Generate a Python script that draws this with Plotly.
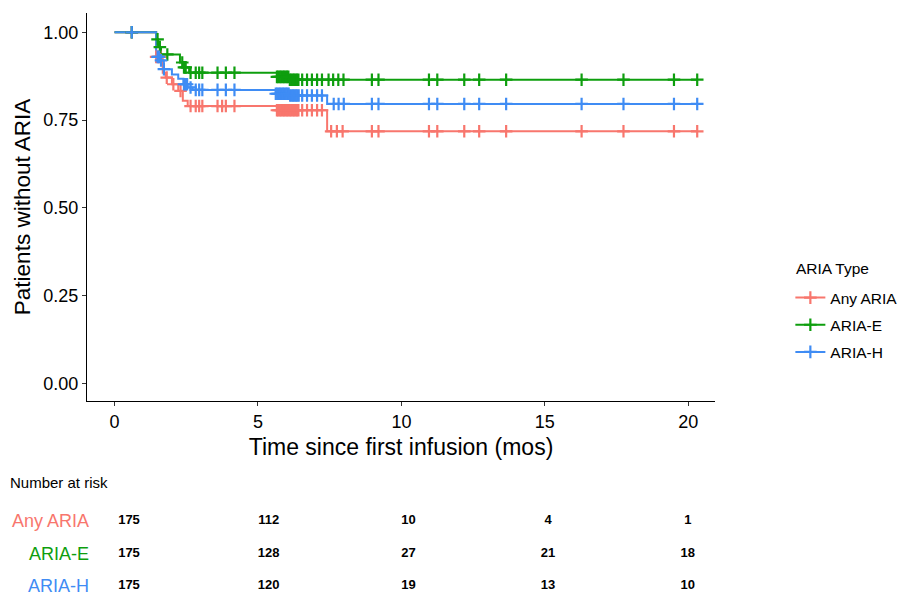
import numpy as np
import plotly.graph_objects as go

# ---------------- data ----------------
groups = ["Any ARIA", "ARIA-E", "ARIA-H"]
colors = ["#F8766D", "#0E9E0E", "#3F8CF4"]

any_time = [0, 1.45, 1.68, 1.78, 2.0, 2.22, 2.38, 2.55, 5.66, 7.41]
any_surv = [1.0, 0.93, 0.885, 0.871, 0.852, 0.833, 0.805, 0.79, 0.778, 0.718]

e_time = [0, 1.45, 1.52, 1.62, 2.28, 2.42, 2.6, 5.66, 6.1]
e_surv = [1.0, 0.98, 0.958, 0.937, 0.914, 0.9, 0.885, 0.873, 0.865]

h_time = [0, 1.45, 1.6, 1.72, 2.0, 2.22, 2.4, 2.55, 2.72, 5.62, 6.1, 7.41]
h_surv = [1.0, 0.93, 0.92, 0.895, 0.88, 0.868, 0.852, 0.843, 0.836, 0.825, 0.82, 0.796]

any_cens = [0.6, 1.45, 1.52, 1.6, 1.82, 2.05, 2.3, 2.65, 2.83, 2.95, 3.06, 3.59, 3.75,
            3.88, 4.18, 5.66, 5.71, 5.76, 5.81, 5.86, 5.91, 5.96, 6.01, 6.06, 6.11,
            6.16, 6.21, 6.26, 6.31, 6.36, 6.41, 6.54, 6.71, 6.88, 7.06, 7.23, 7.55,
            7.75, 7.95, 8.97, 9.2, 10.96, 11.25, 12.19, 12.71, 13.65, 16.28, 17.74,
            19.5, 20.31]
e_cens = [0.6, 1.5, 1.58, 1.84, 2.36, 2.42, 2.48, 2.65, 2.83, 2.95, 3.06, 3.59, 3.88,
          4.18, 5.66, 5.71, 5.76, 5.81, 5.86, 5.91, 5.96, 6.01, 6.06, 6.11, 6.16,
          6.21, 6.26, 6.31, 6.36, 6.41, 6.54, 6.71, 6.88, 7.06, 7.23, 7.46, 7.62,
          7.8, 7.98, 8.97, 9.2, 10.96, 11.25, 12.19, 12.71, 13.65, 16.28, 17.74,
          19.5, 20.31]
h_cens = [0.6, 1.5, 1.55, 1.62, 1.72, 2.42, 2.48, 2.53, 2.65, 2.83, 2.95, 3.06, 3.59,
          3.88, 4.18, 5.62, 5.67, 5.72, 5.77, 5.82, 5.87, 5.92, 5.97, 6.02, 6.07,
          6.12, 6.17, 6.22, 6.27, 6.32, 6.37, 6.42, 6.54, 6.71, 6.88, 7.06, 7.23,
          7.64, 7.81, 7.99, 8.97, 9.2, 10.96, 11.25, 12.19, 12.71, 13.65, 16.28,
          17.74, 19.5, 20.31]

risk_times = [0, 5, 10, 15, 20]
risk_any = [175, 112, 10, 4, 1]
risk_e = [175, 128, 27, 21, 18]
risk_h = [175, 120, 19, 13, 10]

y_ticks = [0, 0.25, 0.5, 0.75, 1.0]
x_ticks = [0, 5, 10, 15, 20]

FONT = "Liberation Sans, Arial, sans-serif"

curves = [(any_time, any_surv, any_cens), (e_time, e_surv, e_cens), (h_time, h_surv, h_cens)]
risks = [risk_any, risk_e, risk_h]

fig = go.Figure()

# step lines
for g, col, (t, s, c) in zip(groups, colors, curves):
    xs = list(t) + [max(c)]
    ys = list(s) + [s[-1]]
    fig.add_trace(go.Scatter(x=xs, y=ys, mode="lines", line=dict(color=col, width=2, shape="hv"),
                             legendgroup=g, showlegend=False, hoverinfo="skip"))

# censor marks
for g, col, (t, s, c) in zip(groups, colors, curves):
    idx = np.searchsorted(np.array(t), np.array(c), side="right") - 1
    cy = np.array(s)[idx]
    fig.add_trace(go.Scatter(x=c, y=cy, mode="markers",
                             marker=dict(symbol="cross-thin", size=9, color=col,
                                         line=dict(color=col, width=2.2)),
                             legendgroup=g, showlegend=False))

# legend entries
for g, col in zip(groups, colors):
    fig.add_trace(go.Scatter(x=[None], y=[None], mode="lines+markers", name=g,
                             line=dict(color=col, width=2),
                             marker=dict(symbol="cross-thin", size=9, color=col,
                                         line=dict(color=col, width=2.2)),
                             legendgroup=g, showlegend=True))

# risk table numbers
for i, r in enumerate(risks):
    fig.add_trace(go.Scatter(x=risk_times, y=[i] * len(risk_times), mode="text",
                             text=[str(v) for v in r], textposition="middle center",
                             textfont=dict(family=FONT, size=13, color="black", weight="bold"),
                             xaxis="x2", yaxis="y2", showlegend=False, hoverinfo="skip"))

annotations = [dict(text="Number at risk", xref="paper", yref="paper", x=-0.1258, y=0.1966,
                    xanchor="left", yanchor="middle", showarrow=False,
                    font=dict(family=FONT, size=15, color="black")),
               dict(text="ARIA Type", xref="paper", yref="paper", x=1.1258,
                    y=(598 - 268) / 585, xanchor="left", yanchor="middle", showarrow=False,
                    font=dict(family=FONT, size=15.5, color="black"))]
for i, (g, col) in enumerate(zip(groups, colors)):
    annotations.append(dict(text=g, xref="paper", yref="y2", x=0.0064, y=i,
                            xanchor="right", yanchor="middle", showarrow=False,
                            font=dict(family=FONT, size=18, color=col)))

fig.update_layout(
    width=899, height=598,
    margin=dict(l=87, r=184, t=13, b=0, autoexpand=False),
    paper_bgcolor="white", plot_bgcolor="white",
    font=dict(family=FONT, color="black"),
    xaxis=dict(domain=[0, 1], range=[-0.96, 20.93], tickvals=x_ticks, automargin=False,
               showgrid=False, zeroline=False, showline=True, linecolor="black", linewidth=1,
               ticks="outside", ticklen=4, tickcolor="#333", tickwidth=1,
               tickfont=dict(family=FONT, size=18, color="black"),
               title=dict(text="Time since first infusion (mos)", standoff=8,
                          font=dict(family=FONT, size=23, color="black")),
               anchor="y"),
    yaxis=dict(domain=[0.3368, 1], range=[-0.05, 1.055], tickvals=y_ticks, tickformat=".2f",
               automargin=False,
               showgrid=False, zeroline=False, showline=True, linecolor="black", linewidth=1,
               ticks="outside", ticklen=4, tickcolor="#333", tickwidth=1,
               tickfont=dict(family=FONT, size=18, color="black"),
               title=dict(text="Patients without ARIA", standoff=6,
                          font=dict(family=FONT, size=22.5, color="black")),
               anchor="x"),
    xaxis2=dict(domain=[0.0242, 0.998], range=[-0.96, 20.93], visible=False, anchor="y2"),
    yaxis2=dict(domain=[0.0094, 0.1427], range=[2.2, -0.2], visible=False, anchor="x2"),
    legend=dict(x=1.12, y=(598 - 281) / 585, xanchor="left", yanchor="top",
                font=dict(family=FONT, size=15.5, color="black"),
                tracegroupgap=4, itemwidth=30, bgcolor="rgba(0,0,0,0)"),
    annotations=annotations,
    showlegend=True,
)

fig.write_html("out.html", config={"displayModeBar": False},
               post_script="document.body.style.margin='0';document.body.style.overflow='hidden';")
